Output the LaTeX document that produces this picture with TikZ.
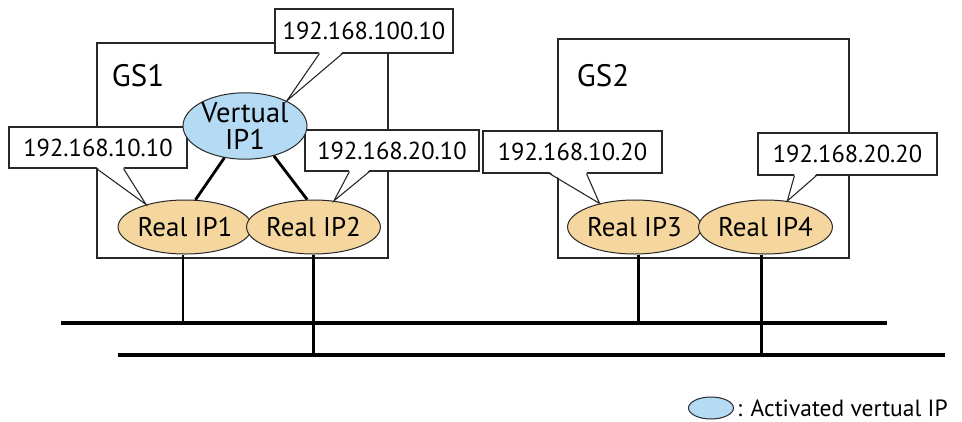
\documentclass[tikz,border=0pt]{standalone}
\usepackage{fontspec}
\setmainfont{PT Sans}
\usetikzlibrary{shapes.geometric,calc}
\definecolor{vblue}{RGB}{180,218,244}
\definecolor{rtan}{RGB}{245,214,158}
\definecolor{edge}{RGB}{40,40,40}
\begin{document}
\begin{tikzpicture}[x=1pt,y=-1pt,
  gsbox/.style={draw=edge,line width=1.2pt,inner sep=0pt},
  gslabel/.style={font=\fontsize{31}{34}\selectfont,inner sep=0pt},
  call/.style={draw=edge,fill=white,line width=1.1pt,inner sep=0pt,font=\fontsize{24.5}{28}\selectfont},
  tail/.style={draw=edge,line width=1.1pt,line join=miter},
  vip/.style={ellipse,draw=edge,fill=vblue,line width=1pt,inner sep=0pt,minimum width=124pt,minimum height=66pt,align=center,font=\fontsize{28.5}{30}\selectfont},
  rip/.style={ellipse,draw=edge,fill=rtan,line width=1pt,inner sep=0pt,minimum width=124pt,minimum height=54pt,font=\fontsize{27}{30}\selectfont},
  bus/.style={line width=3.5pt},
  drop/.style={line width=2.5pt},
  link/.style={line width=2.8pt},
]
\useasboundingbox (0,0) rectangle (962,421);
% group boxes
\node[gsbox,minimum width=291pt,minimum height=215pt] (gs1) at (242.5,150.5) {};
\node[gsbox,minimum width=291pt,minimum height=219pt] (gs2) at (703.5,148.5) {};
\node[gslabel] (gs1l) at (138,76) {GS1};
\node[gslabel] (gs2l) at (603,76) {GS2};
% callout boxes
\node[call,minimum width=178pt,minimum height=44pt] (cA) at (364,31) {192.168.100.10};
\node[call,minimum width=178pt,minimum height=41pt] (cB) at (98,147.5) {192.168.10.10};
\node[call,minimum width=174pt,minimum height=41pt] (cC) at (392,150.5) {192.168.20.10};
\node[call,minimum width=179pt,minimum height=42pt] (cD) at (572.5,152) {192.168.10.20};
\node[call,minimum width=179pt,minimum height=42pt] (cE) at (847.5,154) {192.168.20.20};
% ellipses
\node[vip] (v1) at (245,126) {Vertual\\[-3pt]IP1};
\node[rip] (r1) at (185,227) {Real IP1};
\node[rip] (r2) at (313.5,227) {Real IP2};
\node[rip] (r3) at (634.5,227) {Real IP3};
\node[rip] (r4) at (765.5,227) {Real IP4};
% callout tails
\foreach \c/\a/\b/\t in {cA/45/68/v1.31, cB/88/115/r1.150, cC/45/65/r2.52, cD/67/104/r3.146, cE/37/59/r4.50}{
  \fill[white] ($(\c.south west)+(\a,-1.5)$) -- (\t) -- ($(\c.south west)+(\b,-1.5)$) -- cycle;
  \draw[tail] ($(\c.south west)+(\a,0)$) -- (\t) -- ($(\c.south west)+(\b,0)$);
}
% links virtual -> real
\draw[link] (v1.237) -- (r1.69);
\draw[link] (v1.314) -- (r2.103);
% buses
\coordinate (b1w) at (61,323);
\coordinate (b1e) at (887,323);
\coordinate (b2w) at (118,355);
\coordinate (b2e) at (945,355);
\draw[bus] (b1w) -- (b1e);
\draw[bus] (b2w) -- (b2e);
% drops
\coordinate (d1) at ($(r1.south)+(-2,0)$);
\coordinate (d2) at (r2.south);
\coordinate (d3) at ($(r3.south)+(4,0)$);
\coordinate (d4) at ($(r4.south)+(-4,0)$);
\draw[drop] (d1) -- (d1 |- b1w);
\draw[drop] (d2) -- (d2 |- b2w);
\draw[drop] (d3) -- (d3 |- b1w);
\draw[drop] (d4) -- (d4 |- b2w);
% legend
\node[vip,minimum width=45pt,minimum height=22pt] (lg) at (711,408) {};
\node[anchor=west,inner sep=0pt,font=\fontsize{23.5}{26}\selectfont] (lgt) at (737,408) {: Activated vertual IP};
\end{tikzpicture}
\end{document}
